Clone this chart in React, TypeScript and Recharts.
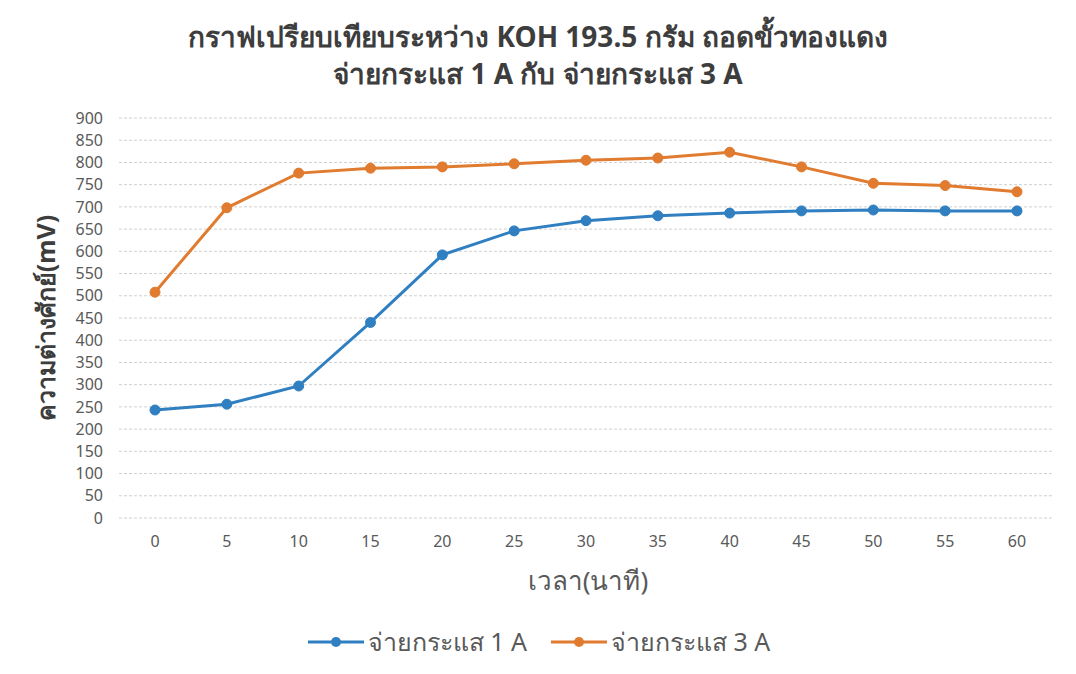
import { LineChart, Line, XAxis, YAxis, CartesianGrid } from 'recharts'

const minutes = ['0', '5', '10', '15', '20', '25', '30', '35', '40', '45', '50', '55', '60']
const current1A = [243, 256, 297, 440, 592, 646, 669, 680, 686, 691, 693, 691, 691]
const current3A = [508, 698, 776, 787, 790, 797, 805, 810, 823, 790, 753, 748, 734]
const yTicks = [0, 50, 100, 150, 200, 250, 300, 350, 400, 450, 500, 550, 600, 650, 700, 750, 800, 850, 900]

const SERIES_1A = 'จ่ายกระแส 1 A'
const SERIES_3A = 'จ่ายกระแส 3 A'
const BLUE = '#2f7fc1'
const ORANGE = '#e07b2f'
const FONT = '"Noto Sans", "DejaVu Sans", sans-serif'

const chartData = minutes.map((m, i) => ({
  minute: m,
  a1: current1A[i],
  a3: current3A[i],
}))

function LegendBox() {
  const items = [
    { name: SERIES_1A, color: BLUE },
    { name: SERIES_3A, color: ORANGE },
  ]
  return (
    <div
      style={{
        position: 'absolute',
        left: 0,
        top: 622,
        width: 1076,
        display: 'flex',
        justifyContent: 'center',
        gap: 22,
        fontSize: 25,
        color: '#595959',
      }}
    >
      {items.map((it) => (
        <div key={it.name} style={{ display: 'flex', alignItems: 'center' }}>
          <svg width={60} height={16} style={{ marginRight: 2 }}>
            <line x1={2} y1={8} x2={58} y2={8} stroke={it.color} strokeWidth={3} />
            <circle cx={30} cy={8} r={5} fill={it.color} />
          </svg>
          <span>{it.name}</span>
        </div>
      ))}
    </div>
  )
}

export default function App() {
  return (
    <div style={{ position: 'absolute', left: 0, top: 0, width: 1076, height: 674, background: '#fff', fontFamily: FONT }}>
      <div
        style={{
          position: 'absolute',
          left: 0,
          top: 18,
          width: 1076,
          textAlign: 'center',
          fontWeight: 'bold',
          fontSize: 28,
          lineHeight: '37px',
          color: '#3d3d3d',
        }}
      >
        <div>กราฟเปรียบเทียบระหว่าง KOH 193.5 กรัม ถอดขั้วทองแดง</div>
        <div>จ่ายกระแส 1 A กับ จ่ายกระแส 3 A</div>
      </div>

      <LineChart
        width={1076}
        height={674}
        data={chartData}
        margin={{ top: 118, right: 23, bottom: 126, left: 59 }}
        style={{ position: 'absolute', left: 0, top: 0 }}
      >
        <CartesianGrid vertical={false} stroke="#d0d0d0" strokeDasharray="3 2" />
        <XAxis
          dataKey="minute"
          height={30}
          padding={{ left: 36, right: 36 }}
          axisLine={false}
          tickLine={false}
          tickSize={0}
          tickMargin={18}
          tick={{ fill: '#595959', fontSize: 16, fontFamily: FONT }}
          interval={0}
        />
        <YAxis
          width={60}
          domain={[0, 900]}
          ticks={yTicks}
          interval={0}
          axisLine={false}
          tickLine={false}
          tickSize={0}
          tickMargin={16}
          tick={{ fill: '#595959', fontSize: 16, fontFamily: FONT }}
        />
        <Line
          dataKey="a1"
          name={SERIES_1A}
          stroke={BLUE}
          strokeWidth={3}
          dot={{ r: 5, fill: BLUE, stroke: BLUE, strokeWidth: 1 }}
          isAnimationActive={false}
        />
        <Line
          dataKey="a3"
          name={SERIES_3A}
          stroke={ORANGE}
          strokeWidth={3}
          dot={{ r: 5, fill: ORANGE, stroke: ORANGE, strokeWidth: 1 }}
          isAnimationActive={false}
        />
      </LineChart>

      <div
        style={{
          position: 'absolute',
          left: 0,
          top: 560,
          width: 1076,
          textAlign: 'center',
          fontSize: 26,
          color: '#595959',
          paddingLeft: 100,
          boxSizing: 'border-box',
        }}
      >
        เวลา(นาที)
      </div>

      <div
        style={{
          position: 'absolute',
          left: 46,
          top: 318,
          transform: 'translate(-50%, -50%) rotate(-90deg)',
          whiteSpace: 'nowrap',
          fontSize: 25,
          fontWeight: 'bold',
          color: '#3d3d3d',
        }}
      >
        ความต่างศักย์(mV)
      </div>

      <LegendBox />
    </div>
  )
}
